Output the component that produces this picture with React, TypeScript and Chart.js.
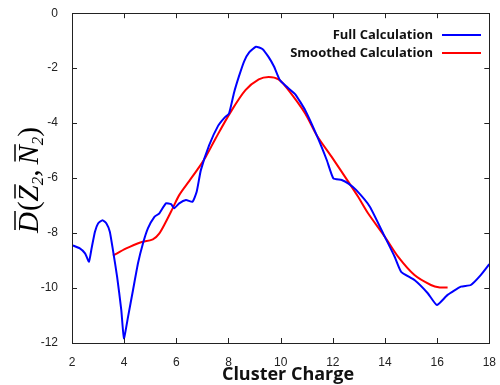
import React, { useEffect, useRef } from "react";
import { Chart, registerables } from "chart.js";

Chart.register(...registerables);

const fullX = [2.0, 2.3, 2.5, 2.65, 2.75, 2.88, 3.0, 3.17, 3.32, 3.45, 3.57, 3.73, 3.89, 3.99, 4.15, 4.34, 4.53, 4.72, 4.91, 5.16, 5.35, 5.6, 5.8, 5.92, 6.11, 6.37, 6.62, 6.78, 6.94, 7.26, 7.6, 7.85, 8.02, 8.21, 8.4, 8.6, 8.8, 9.05, 9.3, 9.54, 9.75, 9.95, 10.2, 10.56, 10.94, 11.38, 11.77, 12.02, 12.34, 12.6, 12.9, 13.42, 13.99, 14.37, 14.62, 15.13, 15.64, 15.99, 16.4, 16.91, 17.29, 17.67, 18.0];
const fullY = [-8.44, -8.56, -8.74, -9.04, -8.56, -7.95, -7.65, -7.53, -7.65, -7.95, -8.62, -9.59, -10.8, -11.83, -11.04, -10.07, -9.1, -8.38, -7.83, -7.41, -7.28, -6.92, -6.95, -7.1, -6.92, -6.8, -6.86, -6.5, -5.71, -4.8, -4.1, -3.8, -3.65, -2.9, -2.3, -1.75, -1.42, -1.22, -1.3, -1.6, -1.95, -2.4, -2.65, -2.95, -3.53, -4.44, -5.35, -6.01, -6.07, -6.2, -6.44, -7.04, -8.13, -8.86, -9.41, -9.71, -10.19, -10.62, -10.25, -9.95, -9.89, -9.53, -9.13];

const smoothX = [3.57, 4.08, 4.59, 5.1, 5.35, 5.6, 5.86, 6.11, 6.5, 6.88, 7.13, 7.51, 8.08, 8.65, 9.16, 9.54, 9.92, 10.3, 10.94, 11.38, 11.95, 12.59, 12.97, 13.35, 13.99, 14.5, 15.13, 15.76, 16.1, 16.4];
const smoothY = [-8.82, -8.56, -8.35, -8.23, -8.01, -7.59, -7.1, -6.62, -6.1, -5.59, -5.22, -4.55, -3.6, -2.8, -2.41, -2.32, -2.41, -2.8, -3.65, -4.44, -5.22, -6.13, -6.68, -7.28, -8.13, -8.86, -9.53, -9.89, -9.98, -9.98];

const xTicks = [2, 4, 6, 8, 10, 12, 14, 16, 18];
const yTicks = [0, -2, -4, -6, -8, -10, -12];
const seriesLabels = ["Full Calculation", "Smoothed Calculation"];
const seriesColors = ["#0000ff", "#ff0000"];
const xTitle = "Cluster Charge";

const decorPlugin = {
  id: "decor",
  afterDraw(chart: any) {
    const ctx = chart.ctx as CanvasRenderingContext2D;
    const { left, right, top, bottom } = chart.chartArea;
    const xs = chart.scales.x;
    const ys = chart.scales.y;
    ctx.save();
    // frame
    ctx.strokeStyle = "#222";
    ctx.lineWidth = 1;
    ctx.strokeRect(Math.round(left) + 0.5, Math.round(top) + 0.5, Math.round(right - left), Math.round(bottom - top));
    // inward ticks
    const tl = 5;
    ctx.beginPath();
    xTicks.forEach((v) => {
      const px = Math.round(xs.getPixelForValue(v)) + 0.5;
      ctx.moveTo(px, bottom);
      ctx.lineTo(px, bottom - tl);
      ctx.moveTo(px, top);
      ctx.lineTo(px, top + tl);
    });
    yTicks.forEach((v) => {
      const py = Math.round(ys.getPixelForValue(v)) + 0.5;
      ctx.moveTo(left, py);
      ctx.lineTo(left + tl, py);
      ctx.moveTo(right, py);
      ctx.lineTo(right - tl, py);
    });
    ctx.stroke();

    // legend
    ctx.font = "bold 13px 'Open Sans'";
    ctx.textAlign = "right";
    ctx.textBaseline = "middle";
    ctx.fillStyle = "#111";
    const legY = [35, 53];
    seriesLabels.forEach((lab, i) => {
      ctx.fillText(lab, 433, legY[i]);
      ctx.strokeStyle = seriesColors[i];
      ctx.lineWidth = 2;
      ctx.beginPath();
      ctx.moveTo(442, legY[i]);
      ctx.lineTo(481, legY[i]);
      ctx.stroke();
    });

    // x title
    ctx.font = "bold 18px 'Open Sans'";
    ctx.textAlign = "center";
    ctx.textBaseline = "alphabetic";
    ctx.fillStyle = "#111";
    ctx.fillText(xTitle, 288, 380);

    // y title: D̄(Z̄₂, N̄₂)
    ctx.translate(38, 180);
    ctx.rotate(-Math.PI / 2);
    const big = "italic 29px 'Liberation Serif'";
    const up = "29px 'Liberation Serif'";
    const sub = "italic 17px 'Liberation Serif'";
    const parts: { t: string; f: string; bar?: boolean; dy?: number; gap?: number }[] = [
      { t: "D", f: big, bar: true, gap: 1 },
      { t: "(", f: up, gap: 0 },
      { t: "Z", f: big, bar: true, gap: 0 },
      { t: "2", f: sub, dy: 5, gap: 0 },
      { t: ",", f: up, gap: 5 },
      { t: "N", f: big, bar: true, gap: 0 },
      { t: "2", f: sub, dy: 5, gap: 0 },
      { t: ")", f: up, gap: 0 },
    ];
    let total = 0;
    const widths = parts.map((p) => {
      ctx.font = p.f;
      const w = ctx.measureText(p.t).width;
      total += w + (p.gap || 0);
      return w;
    });
    let x = -total / 2;
    ctx.textAlign = "left";
    ctx.fillStyle = "#000";
    ctx.strokeStyle = "#000";
    parts.forEach((p, i) => {
      ctx.font = p.f;
      ctx.fillText(p.t, x, p.dy || 0);
      if (p.bar) {
        ctx.lineWidth = 1.5;
        ctx.beginPath();
        ctx.moveTo(x + 3, -23);
        ctx.lineTo(x + widths[i] + 1, -23);
        ctx.stroke();
      }
      x += widths[i] + (p.gap || 0);
    });
    ctx.restore();
  },
};

export default function App() {
  const ref = useRef<HTMLCanvasElement | null>(null);
  useEffect(() => {
    if (!ref.current) return;
    const chart = new Chart(ref.current, {
      type: "line",
      data: {
        datasets: [
          {
            label: seriesLabels[0],
            data: fullX.map((x, i) => ({ x, y: fullY[i] })),
            borderColor: seriesColors[0],
            borderWidth: 2,
            pointRadius: 0,
            tension: 0.15,
            fill: false,
          },
          {
            label: seriesLabels[1],
            data: smoothX.map((x, i) => ({ x, y: smoothY[i] })),
            borderColor: seriesColors[1],
            borderWidth: 2,
            pointRadius: 0,
            tension: 0.3,
            fill: false,
          },
        ],
      },
      options: {
        animation: false,
        responsive: false,
        maintainAspectRatio: false,
        layout: { padding: { top: 13, right: 8, left: 0, bottom: 0 } },
        plugins: { legend: { display: false }, tooltip: { enabled: false } },
        scales: {
          x: {
            type: "linear",
            min: 2,
            max: 18,
            afterBuildTicks: (s: any) => {
              s.ticks = xTicks.map((v) => ({ value: v }));
            },
            ticks: {
              font: { family: "'Liberation Sans'", size: 12 },
              color: "#222",
              padding: 4,
              maxRotation: 0,
              autoSkip: false,
            },
            grid: { display: false },
            border: { display: false },
            afterFit: (s: any) => {
              s.height = 42;
            },
          },
          y: {
            type: "linear",
            min: -12,
            max: 0,
            afterBuildTicks: (s: any) => {
              s.ticks = yTicks.map((v) => ({ value: v }));
            },
            ticks: {
              font: { family: "'Liberation Sans'", size: 12 },
              color: "#222",
              padding: 6,
              autoSkip: false,
            },
            grid: { display: false },
            border: { display: false },
            afterFit: (s: any) => {
              s.width = 72;
            },
          },
        },
      },
      plugins: [decorPlugin],
    });
    return () => chart.destroy();
  }, []);
  return (
    <div style={{ position: "fixed", left: 0, top: 0, width: 500, height: 385, background: "#fff" }}>
      <canvas ref={ref} width={500} height={385} style={{ width: 500, height: 385 }} />
    </div>
  );
}
